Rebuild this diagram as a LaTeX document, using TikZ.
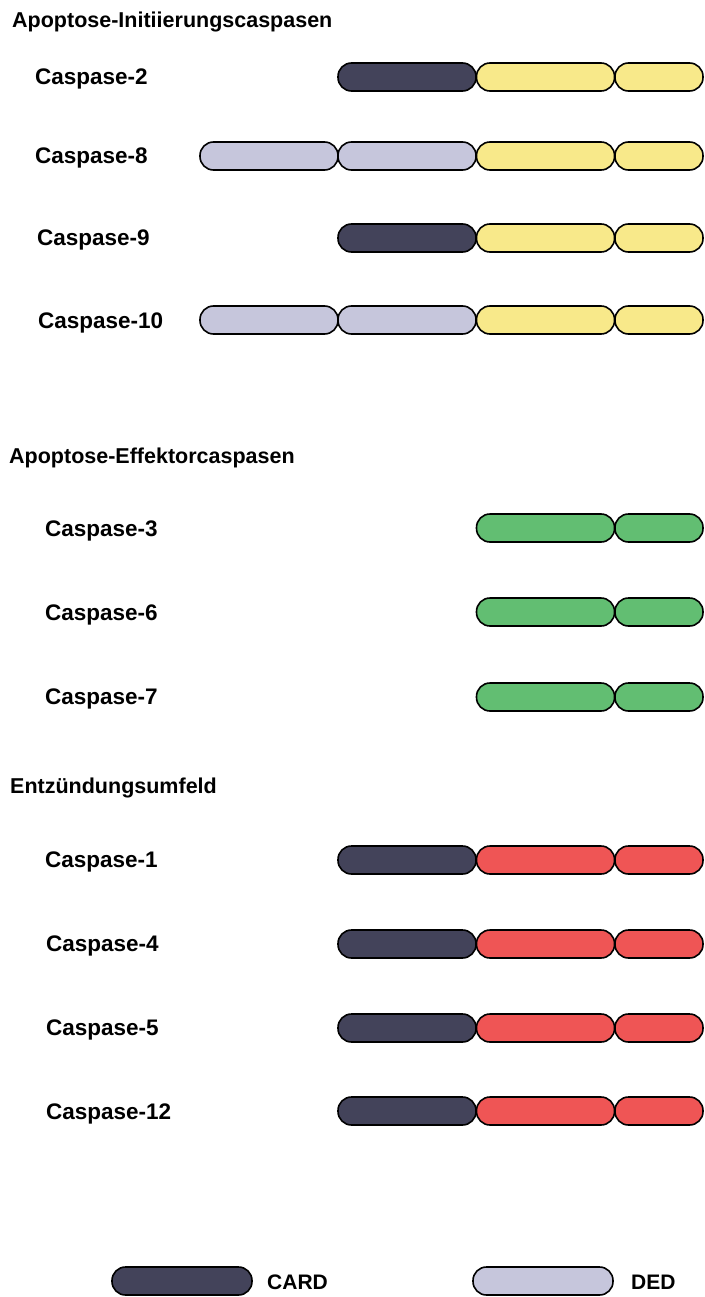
\documentclass[tikz,border=0pt]{standalone}
\usepackage{fontspec}
\setmainfont{Liberation Sans}
\definecolor{cardc}{HTML}{43435A}
\definecolor{dedc}{HTML}{C6C6DC}
\definecolor{yelc}{HTML}{F8E98A}
\definecolor{grnc}{HTML}{62BE72}
\definecolor{redc}{HTML}{EF5555}
\tikzset{
  pill/.style={rectangle, rounded corners=13.5pt, draw=black, line width=1.6pt,
    minimum height=28pt, inner sep=0pt, outer sep=0pt},
  card/.style={pill, fill=cardc},
  ded/.style={pill, fill=dedc},
  yel/.style={pill, fill=yelc},
  grn/.style={pill, fill=grnc},
  red/.style={pill, fill=redc},
  long/.style={minimum width=138pt},
  short/.style={minimum width=88pt},
  lbl/.style={anchor=base west, inner sep=0pt, font=\fontsize{22.5}{26}\selectfont\bfseries},
  hdr/.style={anchor=base west, inner sep=0pt, font=\fontsize{21.5}{26}\selectfont\bfseries},
  leg/.style={anchor=base west, inner sep=0pt, font=\fontsize{21}{25}\selectfont\bfseries}
}
\begin{document}
\begin{tikzpicture}[x=1pt,y=-1pt]
\useasboundingbox (0,0) rectangle (704,1297);
% headers
\node[hdr] (h1) at (12,28) {Apoptose-Initiierungscaspasen};
\node[hdr] (h2) at (9,463) {Apoptose-Effektorcaspasen};
\node[hdr] (h3) at (10,793) {Entzündungsumfeld};
% Caspase-2
\node[lbl] (l2) at (35,85) {Caspase-2};
\node[card,long] (c2a) at (407,77) {};
\node[yel,long] (c2b) at (545.5,77) {};
\node[yel,short] (c2c) at (659,77) {};
% Caspase-8
\node[lbl] (l8) at (35,164) {Caspase-8};
\node[ded,long] (c8a) at (269,156) {};
\node[ded,long] (c8b) at (407,156) {};
\node[yel,long] (c8c) at (545.5,156) {};
\node[yel,short] (c8d) at (659,156) {};
% Caspase-9
\node[lbl] (l9) at (37,246) {Caspase-9};
\node[card,long] (c9a) at (407,238) {};
\node[yel,long] (c9b) at (545.5,238) {};
\node[yel,short] (c9c) at (659,238) {};
% Caspase-10
\node[lbl] (l10) at (38,328) {Caspase-10};
\node[ded,long] (c10a) at (269,320) {};
\node[ded,long] (c10b) at (407,320) {};
\node[yel,long] (c10c) at (545.5,320) {};
\node[yel,short] (c10d) at (659,320) {};
% effector
\node[lbl] (l3) at (45,536) {Caspase-3};
\node[grn,long] (c3a) at (545.5,528) {};
\node[grn,short] (c3b) at (659,528) {};
\node[lbl] (l6) at (45,620) {Caspase-6};
\node[grn,long] (c6a) at (545.5,612) {};
\node[grn,short] (c6b) at (659,612) {};
\node[lbl] (l7) at (45,704) {Caspase-7};
\node[grn,long] (c7a) at (545.5,697) {};
\node[grn,short] (c7b) at (659,697) {};
% inflammatory
\node[lbl] (l1) at (45,867) {Caspase-1};
\node[card,long] (c1a) at (407,860) {};
\node[red,long] (c1b) at (545.5,860) {};
\node[red,short] (c1c) at (659,860) {};
\node[lbl] (l4) at (46,951) {Caspase-4};
\node[card,long] (c4a) at (407,944) {};
\node[red,long] (c4b) at (545.5,944) {};
\node[red,short] (c4c) at (659,944) {};
\node[lbl] (l5) at (46,1035) {Caspase-5};
\node[card,long] (c5a) at (407,1028) {};
\node[red,long] (c5b) at (545.5,1028) {};
\node[red,short] (c5c) at (659,1028) {};
\node[lbl] (l12) at (46,1119) {Caspase-12};
\node[card,long] (c12a) at (407,1111) {};
\node[red,long] (c12b) at (545.5,1111) {};
\node[red,short] (c12c) at (659,1111) {};
% legend
\node[card,minimum width=140pt] (lgc) at (182,1281) {};
\node[leg] (lgct) at (267,1289) {CARD};
\node[ded,minimum width=140pt] (lgd) at (543,1281) {};
\node[leg] (lgdt) at (631,1289) {DED};
\end{tikzpicture}
\end{document}
